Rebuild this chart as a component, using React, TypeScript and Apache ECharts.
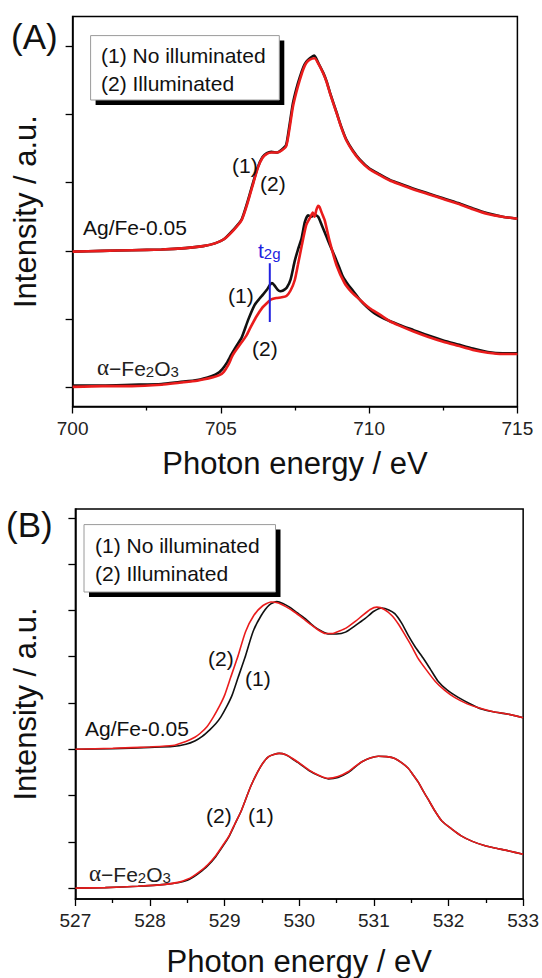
import React, { useEffect, useRef } from "react";
import * as echarts from "echarts";

const FONT = '"Liberation Sans", Arial, Helvetica, sans-serif';
const BLACK = "#111111";
const RED = "#ea1c1c";
const BLUE = "#2222e0";

// ---------- Panel A : Fe L-edge (700-715 eV) ----------
const xRangeA = [700, 715];
const xIntervalA = 5;
const yTicksA = [0, 1, 2, 3, 4, 5];
const yRangeA = [-0.278, 5.43];

const agFeA_dark: [number, number][] = [
  [700.0, 1.99], [701.0, 2.0], [702.0, 2.01], [703.0, 2.02], [703.8, 2.04], [704.4, 2.07],
  [704.8, 2.11], [705.1, 2.17], [705.4, 2.3], [705.7, 2.46], [705.9, 2.72], [706.1, 3.02],
  [706.25, 3.23], [706.4, 3.37], [706.55, 3.43], [706.7, 3.45], [706.9, 3.44], [707.05, 3.48],
  [707.2, 3.55], [707.3, 3.8], [707.43, 4.16], [707.55, 4.38], [707.66, 4.54], [707.78, 4.69],
  [707.88, 4.77], [708.0, 4.82], [708.15, 4.86], [708.3, 4.74], [708.45, 4.61], [708.56, 4.49],
  [708.7, 4.29], [708.9, 4.03], [709.05, 3.83], [709.23, 3.63], [709.45, 3.47], [709.68, 3.34],
  [710.0, 3.21], [710.36, 3.12], [710.7, 3.04], [711.0, 2.99], [711.5, 2.91], [712.0, 2.84],
  [712.5, 2.77], [713.0, 2.7], [713.5, 2.62], [714.0, 2.55], [714.5, 2.5], [715.0, 2.47],
];
const agFeA_light: [number, number][] = [
  [700.0, 1.99], [701.0, 2.0], [702.0, 2.01], [703.0, 2.02], [703.8, 2.04], [704.4, 2.07],
  [704.8, 2.11], [705.1, 2.17], [705.4, 2.29], [705.7, 2.45], [705.9, 2.7], [706.1, 3.0],
  [706.25, 3.22], [706.4, 3.36], [706.55, 3.42], [706.7, 3.44], [706.9, 3.44], [707.05, 3.47],
  [707.2, 3.53], [707.3, 3.75], [707.43, 4.11], [707.55, 4.33], [707.66, 4.5], [707.78, 4.66],
  [707.88, 4.75], [708.0, 4.8], [708.16, 4.82], [708.3, 4.73], [708.45, 4.6], [708.56, 4.48],
  [708.7, 4.28], [708.9, 4.02], [709.05, 3.82], [709.23, 3.62], [709.45, 3.46], [709.68, 3.33],
  [710.0, 3.2], [710.36, 3.11], [710.7, 3.03], [711.0, 2.98], [711.5, 2.9], [712.0, 2.83],
  [712.5, 2.76], [713.0, 2.69], [713.5, 2.61], [714.0, 2.54], [714.5, 2.5], [715.0, 2.47],
];
const fe2o3A_dark: [number, number][] = [
  [700.0, 0.03], [701.0, 0.03], [702.0, 0.04], [703.0, 0.05], [703.6, 0.08], [704.2, 0.11],
  [704.7, 0.17], [704.9, 0.21], [705.05, 0.27], [705.2, 0.36], [705.35, 0.48], [705.5, 0.59],
  [705.7, 0.73], [705.92, 0.99], [706.14, 1.21], [706.3, 1.3], [706.42, 1.36], [706.55, 1.43],
  [706.65, 1.5], [706.72, 1.53], [706.8, 1.5], [706.92, 1.43], [707.0, 1.41], [707.1, 1.42],
  [707.22, 1.46], [707.35, 1.58], [707.49, 1.85], [707.6, 2.02], [707.72, 2.18], [707.83, 2.42],
  [707.94, 2.52], [708.05, 2.5], [708.15, 2.53], [708.28, 2.5], [708.4, 2.38], [708.56, 2.21],
  [708.7, 2.06], [708.84, 1.92], [709.0, 1.75], [709.12, 1.62], [709.3, 1.5], [709.45, 1.42],
  [709.7, 1.28], [709.9, 1.19], [710.2, 1.08], [710.5, 1.01], [711.0, 0.92], [711.5, 0.84],
  [712.0, 0.76], [712.5, 0.69], [713.0, 0.63], [713.5, 0.57], [714.0, 0.52], [714.5, 0.5],
  [715.0, 0.5],
];
const fe2o3A_light: [number, number][] = [
  [700.0, 0.01], [701.0, 0.02], [702.0, 0.02], [703.0, 0.04], [703.6, 0.07], [704.2, 0.1],
  [704.74, 0.15], [704.95, 0.18], [705.1, 0.23], [705.25, 0.33], [705.41, 0.48], [705.6, 0.6],
  [705.86, 0.76], [706.0, 0.88], [706.2, 1.04], [706.4, 1.17], [706.54, 1.23], [706.7, 1.29],
  [706.87, 1.31], [707.05, 1.32], [707.21, 1.34], [707.35, 1.42], [707.49, 1.57], [707.6, 1.8],
  [707.72, 2.06], [707.88, 2.38], [708.0, 2.48], [708.1, 2.56], [708.16, 2.5], [708.22, 2.6],
  [708.28, 2.66], [708.33, 2.64], [708.4, 2.56], [708.5, 2.45], [708.67, 2.14], [708.9, 1.79],
  [709.17, 1.53], [709.4, 1.4], [709.57, 1.33], [709.8, 1.24], [710.02, 1.16], [710.35, 1.07],
  [710.7, 0.97], [711.0, 0.91], [711.5, 0.82], [712.0, 0.74], [712.5, 0.67], [713.0, 0.61],
  [713.5, 0.55], [714.0, 0.51], [714.5, 0.49], [715.0, 0.49],
];
const t2gMarker: [number, number][] = [[706.65, 0.96], [706.65, 1.82]];

// ---------- Panel B : O K-edge (527-533 eV) ----------
const xRangeB = [527, 533];
const xIntervalB = 1;
const yTicksB = [0, 1, 2, 3, 4, 5, 6, 7, 8];
const yRangeB = [-0.235, 8.19];

const agFeB_dark: [number, number][] = [
  [527.0, 3.0], [527.5, 3.01], [528.0, 3.04], [528.3, 3.06], [528.48, 3.11], [528.6, 3.18],
  [528.7, 3.28], [528.8, 3.42], [528.88, 3.55], [528.95, 3.7], [529.03, 3.93], [529.1, 4.17],
  [529.18, 4.55], [529.27, 4.97], [529.38, 5.54], [529.49, 5.89], [529.6, 6.12], [529.7, 6.19],
  [529.78, 6.15], [529.87, 6.07], [529.97, 5.95], [530.08, 5.82], [530.2, 5.65], [530.3, 5.55],
  [530.4, 5.49], [530.5, 5.49], [530.62, 5.53], [530.75, 5.67], [530.88, 5.82], [531.0, 5.98],
  [531.11, 6.05], [531.2, 6.01], [531.28, 5.93], [531.37, 5.73], [531.46, 5.46], [531.55, 5.22],
  [531.66, 4.97], [531.76, 4.72], [531.86, 4.47], [531.98, 4.28], [532.13, 4.12], [532.28, 3.99],
  [532.44, 3.87], [532.6, 3.81], [532.79, 3.76], [533.0, 3.68],
];
const agFeB_light: [number, number][] = [
  [527.0, 3.0], [527.5, 3.02], [528.0, 3.05], [528.3, 3.08], [528.48, 3.17], [528.6, 3.26],
  [528.67, 3.34], [528.76, 3.48], [528.85, 3.7], [528.93, 3.93], [529.0, 4.17], [529.08, 4.55],
  [529.17, 4.97], [529.28, 5.54], [529.39, 5.89], [529.51, 6.1], [529.62, 6.18], [529.72, 6.16],
  [529.82, 6.08], [529.93, 5.97], [530.04, 5.84], [530.15, 5.7], [530.26, 5.57], [530.35, 5.5],
  [530.45, 5.5], [530.53, 5.55], [530.62, 5.61], [530.75, 5.76], [530.84, 5.88], [530.95, 6.02],
  [531.04, 6.07], [531.14, 6.02], [531.24, 5.89], [531.33, 5.7], [531.42, 5.46], [531.5, 5.24],
  [531.59, 4.97], [531.7, 4.72], [531.82, 4.47], [531.95, 4.27], [532.08, 4.12], [532.25, 3.98],
  [532.39, 3.9], [532.6, 3.81], [532.79, 3.76], [533.0, 3.68],
];
const fe2o3B_dark: [number, number][] = [
  [527.0, 0.0], [527.4, 0.01], [527.84, 0.04], [528.2, 0.08], [528.39, 0.12], [528.5, 0.17],
  [528.58, 0.24], [528.66, 0.33], [528.77, 0.48], [528.88, 0.68], [528.99, 0.94], [529.06, 1.12],
  [529.14, 1.39], [529.22, 1.66], [529.35, 2.2], [529.48, 2.62], [529.59, 2.84], [529.73, 2.91],
  [529.82, 2.88], [529.91, 2.79], [530.02, 2.67], [530.13, 2.54], [530.26, 2.43], [530.39, 2.36],
  [530.52, 2.39], [530.66, 2.5], [530.75, 2.62], [530.84, 2.73], [530.95, 2.81], [531.06, 2.85],
  [531.17, 2.84], [531.28, 2.8], [531.37, 2.71], [531.46, 2.59], [531.52, 2.46], [531.59, 2.3],
  [531.66, 2.1], [531.73, 1.91], [531.82, 1.66], [531.91, 1.45], [532.04, 1.28], [532.17, 1.13],
  [532.32, 1.01], [532.48, 0.92], [532.64, 0.86], [532.79, 0.81], [533.0, 0.73],
];
const fe2o3B_light: [number, number][] = [
  [527.0, 0.0], [527.4, 0.01], [527.84, 0.04], [528.2, 0.08], [528.39, 0.13], [528.5, 0.19],
  [528.58, 0.26], [528.66, 0.35], [528.77, 0.5], [528.88, 0.7], [528.99, 0.96], [529.06, 1.13],
  [529.14, 1.4], [529.22, 1.66], [529.35, 2.2], [529.48, 2.62], [529.59, 2.84], [529.73, 2.91],
  [529.82, 2.88], [529.91, 2.8], [530.02, 2.68], [530.13, 2.55], [530.26, 2.44], [530.39, 2.37],
  [530.52, 2.41], [530.66, 2.52], [530.75, 2.63], [530.84, 2.73], [530.95, 2.81], [531.06, 2.85],
  [531.17, 2.84], [531.28, 2.8], [531.37, 2.71], [531.46, 2.59], [531.52, 2.46], [531.59, 2.3],
  [531.66, 2.1], [531.73, 1.91], [531.82, 1.66], [531.91, 1.45], [532.04, 1.28], [532.17, 1.13],
  [532.32, 1.01], [532.48, 0.92], [532.64, 0.86], [532.79, 0.81], [533.0, 0.73],
];

const legendLines = ["(1) No illuminated", "(2) Illuminated"];
const xTitle = "Photon energy / eV";
const yTitle = "Intensity / a.u.";

function xAxisOf(gridIndex: number, range: number[], interval: number, nameGap: number) {
  return {
    type: "value",
    gridIndex,
    min: range[0],
    max: range[1],
    interval,
    name: xTitle,
    nameLocation: "middle",
    nameGap,
    nameTextStyle: { fontFamily: FONT, fontSize: 31, color: BLACK },
    axisLine: { show: true, onZero: false, lineStyle: { color: "#000", width: 1.5 } },
    axisTick: { show: true, inside: false, length: 7, lineStyle: { color: "#000", width: 1.3 } },
    minorTick: { show: true, splitNumber: 2, length: 4, lineStyle: { color: "#000", width: 1.3 } },
    axisLabel: { show: true, fontFamily: FONT, fontSize: 19, color: "#222", margin: 12 },
    splitLine: { show: false },
    minorSplitLine: { show: false },
  };
}

function yAxisOf(gridIndex: number, range: number[], ticks: number[], nameGap: number) {
  return {
    type: "value",
    gridIndex,
    min: range[0],
    max: range[1],
    name: yTitle,
    nameLocation: "middle",
    nameGap,
    nameRotate: 90,
    nameTextStyle: { fontFamily: FONT, fontSize: 31, color: BLACK },
    axisLine: { show: true, onZero: false, lineStyle: { color: "#000", width: 1.5 } },
    axisTick: { show: true, inside: false, length: 7, customValues: ticks, lineStyle: { color: "#000", width: 1.3 } },
    axisLabel: { show: false },
    splitLine: { show: false },
  };
}

function lineSeries(x: number, y: number, data: [number, number][], color: string, width: number) {
  return {
    type: "line",
    xAxisIndex: x,
    yAxisIndex: y,
    data,
    showSymbol: false,
    symbol: "none",
    smooth: 0.2,
    color,
    lineStyle: { color, width },
    z: 3,
  };
}

function txt(x: number, y: number, text: string, size = 21, extra: any = {}) {
  return {
    type: "text",
    x,
    y,
    z: 10,
    style: { text, fontFamily: FONT, fontSize: size, fill: "#111", verticalAlign: "middle", align: "left", ...extra },
  };
}

function legendBox(x: number, y: number, w: number, h: number, ty1: number, ty2: number, tx: number) {
  return [
    { type: "rect", z: 8, shape: { x: x + 5, y: y + 5, width: w, height: h }, style: { fill: "#000" } },
    { type: "rect", z: 9, shape: { x, y, width: w, height: h }, style: { fill: "#fff", stroke: "#9a9a9a", lineWidth: 1 } },
    txt(tx, ty1, legendLines[0]),
    txt(tx, ty2, legendLines[1]),
  ];
}

const feRich = {
  a: { fontFamily: '"Liberation Serif", "DejaVu Serif", serif', fontSize: 23, fill: "#222", verticalAlign: "bottom", lineHeight: 24 },
  b: { fontFamily: FONT, fontSize: 21, fill: "#222", verticalAlign: "bottom", lineHeight: 24 },
  s: { fontFamily: FONT, fontSize: 15, fill: "#222", verticalAlign: "bottom", lineHeight: 21 },
};
const feText = "{a|α}{b|−Fe}{s|2}{b|O}{s|3}";

export default function App() {
  const ref = useRef<HTMLDivElement>(null);
  useEffect(() => {
    if (!ref.current) return;
    const chart = echarts.init(ref.current, undefined, { renderer: "svg" });
    chart.setOption({
      animation: false,
      backgroundColor: "#fff",
      grid: [
        { left: 72.6, top: 16.6, width: 444.8, height: 389.9, show: true, borderColor: "#000", borderWidth: 1.5 },
        { left: 75.4, top: 509, width: 450, height: 395, show: true, borderColor: "#000", borderWidth: 1.5 },
      ],
      xAxis: [xAxisOf(0, xRangeA, xIntervalA, 41), xAxisOf(1, xRangeB, xIntervalB, 47)],
      yAxis: [yAxisOf(0, yRangeA, yTicksA, 32), yAxisOf(1, yRangeB, yTicksB, 34)],
      series: [
        lineSeries(0, 0, agFeA_dark, BLACK, 2.6),
        lineSeries(0, 0, agFeA_light, RED, 2.6),
        lineSeries(0, 0, fe2o3A_dark, BLACK, 2.6),
        lineSeries(0, 0, fe2o3A_light, RED, 2.6),
        { ...lineSeries(0, 0, t2gMarker, BLUE, 2), smooth: false, z: 4 },
        lineSeries(1, 1, agFeB_dark, BLACK, 1.6),
        lineSeries(1, 1, agFeB_light, RED, 1.6),
        lineSeries(1, 1, fe2o3B_dark, BLACK, 1.6),
        lineSeries(1, 1, fe2o3B_light, RED, 1.6),
      ],
      graphic: [
        txt(11, 36, "(A)", 35),
        txt(6, 524, "(B)", 35),
        ...legendBox(90.6, 35.6, 188.7, 64.4, 55, 83, 101),
        ...legendBox(84, 524.6, 191.5, 67.4, 545, 573, 95),
        // panel A annotations
        txt(232, 165, "(1)"),
        txt(260, 183, "(2)"),
        txt(83, 227, "Ag/Fe-0.05"),
        txt(228, 295, "(1)"),
        txt(252, 348, "(2)"),
        {
          type: "text", x: 97, y: 367, z: 10,
          style: { text: feText, rich: feRich, verticalAlign: "middle", align: "left" },
        },
        {
          type: "text", x: 258, y: 249, z: 10,
          style: {
            text: "{t|t}{s|2g}", verticalAlign: "middle", align: "left",
            rich: {
              t: { fontFamily: FONT, fontSize: 21, fill: BLUE, verticalAlign: "bottom", lineHeight: 24 },
              s: { fontFamily: FONT, fontSize: 15, fill: BLUE, verticalAlign: "bottom", lineHeight: 21 },
            },
          },
        },
        // panel B annotations
        txt(208, 658, "(2)"),
        txt(245, 678, "(1)"),
        txt(85, 728, "Ag/Fe-0.05"),
        txt(206, 815, "(2)"),
        txt(248, 815, "(1)"),
        {
          type: "text", x: 89, y: 873, z: 10,
          style: { text: feText, rich: feRich, verticalAlign: "middle", align: "left" },
        },
      ],
    });
    return () => chart.dispose();
  }, []);
  return <div ref={ref} style={{ position: "absolute", left: 0, top: 0, width: 542, height: 978 }} />;
}
